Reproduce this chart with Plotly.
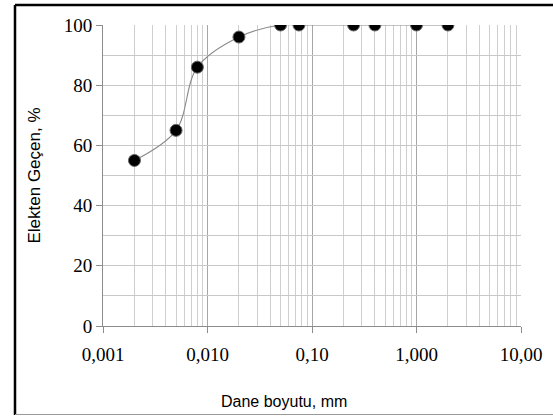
import plotly.graph_objects as go

size_mm = [0.002, 0.005, 0.008, 0.02, 0.05, 0.075, 0.25, 0.4, 1.0, 2.0]
passing = [55, 65, 86, 96, 100, 100, 100, 100, 100, 100]

x_tickvals = [0.001, 0.01, 0.1, 1, 10]
x_ticktext = ["0,001", "0,010", "0,10", "1,000", "10,00"]
y_tickvals = [0, 20, 40, 60, 80, 100]
y_ticktext = ["0", "20", "40", "60", "80", "100"]

minor_x = [m * d for d in [0.001, 0.01, 0.1, 1] for m in range(2, 10)]

SERIF = "'Liberation Serif', 'DejaVu Serif', serif"
SANS = "'Liberation Sans', Arial, sans-serif"

W, H = 553, 416
ml, mr, mt, mb = 103, 32, 25, 90
pw, ph = W - ml - mr, H - mt - mb

def px_x(p):
    return (p - ml) / pw

def px_y(p):
    return (H - mb - p) / ph

fig = go.Figure()
fig.add_trace(go.Scatter(
    x=size_mm, y=passing, mode="lines",
    line=dict(color="#8a8a8a", width=1.1, shape="spline", smoothing=1.0),
    hoverinfo="skip", showlegend=False))
fig.add_trace(go.Scatter(
    x=size_mm, y=passing, mode="markers",
    marker=dict(color="black", size=12, line=dict(color="#666666", width=1)),
    showlegend=False))

fig.update_layout(
    width=W, height=H,
    margin=dict(l=ml, r=mr, t=mt, b=mb),
    paper_bgcolor="white", plot_bgcolor="white",
    xaxis=dict(
        type="log", range=[-3, 1],
        tickmode="array", tickvals=x_tickvals, ticktext=x_ticktext,
        showgrid=True, gridcolor="#a6a6a6", gridwidth=1,
        minor=dict(tickmode="array", tickvals=minor_x, showgrid=True,
                   gridcolor="#cfcfcf", gridwidth=1, ticks=""),
        ticks="outside", ticklen=6, tickcolor="#8c8c8c",
        ticklabelstandoff=5,
        showline=True, linecolor="#8c8c8c", linewidth=1,
        tickfont=dict(family=SERIF, size=19, color="black"),
        zeroline=False, mirror=False),
    yaxis=dict(
        range=[0, 100],
        tickmode="array", tickvals=y_tickvals, ticktext=y_ticktext,
        showgrid=True, gridcolor="#bdbdbd", gridwidth=1,
        ticks="outside", ticklen=6, tickcolor="#8c8c8c",
        showline=True, linecolor="#8c8c8c", linewidth=1,
        tickfont=dict(family=SERIF, size=19, color="black"),
        title=dict(text="Elekten Geçen, %", standoff=18,
                   font=dict(family=SANS, size=17, color="black")),
        zeroline=False),
    yaxis2=dict(
        overlaying="y", range=[0, 100], tickmode="linear", tick0=0, dtick=10,
        showgrid=True, gridcolor="#c8c8c8", gridwidth=1,
        showticklabels=False, ticks="", showline=False, zeroline=False),
    annotations=[
        dict(text="Dane boyutu, mm", xref="paper", yref="paper",
             x=px_x(284), y=px_y(402), xanchor="center", yanchor="middle",
             showarrow=False, font=dict(family=SANS, size=16, color="black")),
    ],
    shapes=[
        dict(type="line", xref="paper", yref="paper",
             x0=px_x(15), x1=px_x(15), y0=px_y(5), y1=px_y(415),
             line=dict(color="black", width=2.5)),
        dict(type="line", xref="paper", yref="paper",
             x0=px_x(15), x1=px_x(560), y0=px_y(5), y1=px_y(5),
             line=dict(color="black", width=2.5)),
        dict(type="line", xref="paper", yref="paper",
             x0=px_x(15), x1=px_x(560), y0=px_y(414.5), y1=px_y(414.5),
             line=dict(color="#9a9a9a", width=1)),
    ],
)
fig.add_trace(go.Scatter(x=[], y=[], yaxis="y2", showlegend=False))

fig.write_html("out.html")
